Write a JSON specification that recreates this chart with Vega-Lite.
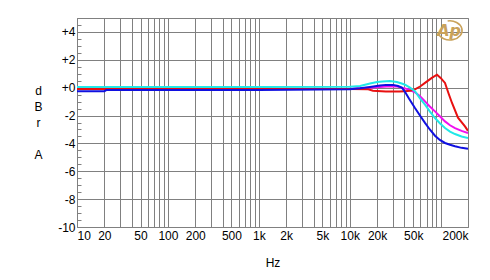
{
  "$schema": "https://vega.github.io/schema/vega-lite/v6.json",
  "width": 391,
  "height": 209,
  "autosize": {"type": "none"},
  "padding": {"left": 77, "top": 18, "right": 22, "bottom": 53},
  "background": "white",
  "config": {"view": {"stroke": "#808080", "strokeWidth": 1}, "font": "Liberation Sans"},
  "layer": [
    {
      "data": {"values": [
        {"t": "magenta", "hz": 10, "db": -0.1}, {"t": "magenta", "hz": 1000, "db": -0.1}, {"t": "magenta", "hz": 10000, "db": -0.08}, {"t": "magenta", "hz": 16700, "db": 0.0}, {"t": "magenta", "hz": 21500, "db": 0.05}, {"t": "magenta", "hz": 27700, "db": 0.1}, {"t": "magenta", "hz": 33000, "db": 0.08}, {"t": "magenta", "hz": 36000, "db": 0.02}, {"t": "magenta", "hz": 40500, "db": -0.05}, {"t": "magenta", "hz": 45000, "db": -0.15}, {"t": "magenta", "hz": 52200, "db": -0.33}, {"t": "magenta", "hz": 59000, "db": -0.6}, {"t": "magenta", "hz": 67300, "db": -0.98}, {"t": "magenta", "hz": 76000, "db": -1.35}, {"t": "magenta", "hz": 86700, "db": -1.7}, {"t": "magenta", "hz": 98000, "db": -2.05}, {"t": "magenta", "hz": 111700, "db": -2.42}, {"t": "magenta", "hz": 126800, "db": -2.7}, {"t": "magenta", "hz": 143900, "db": -2.9}, {"t": "magenta", "hz": 170000, "db": -3.1}, {"t": "magenta", "hz": 200000, "db": -3.25},
        {"t": "red", "hz": 10, "db": -0.1}, {"t": "red", "hz": 10000, "db": -0.1}, {"t": "red", "hz": 16000, "db": -0.12}, {"t": "red", "hz": 18000, "db": -0.22}, {"t": "red", "hz": 25000, "db": -0.27}, {"t": "red", "hz": 35000, "db": -0.28}, {"t": "red", "hz": 40500, "db": -0.25}, {"t": "red", "hz": 46000, "db": -0.22}, {"t": "red", "hz": 52200, "db": -0.12}, {"t": "red", "hz": 60000, "db": 0.1}, {"t": "red", "hz": 67300, "db": 0.34}, {"t": "red", "hz": 80000, "db": 0.7}, {"t": "red", "hz": 91200, "db": 0.93}, {"t": "red", "hz": 100000, "db": 0.7}, {"t": "red", "hz": 111700, "db": 0.34}, {"t": "red", "hz": 122000, "db": -0.4}, {"t": "red", "hz": 133400, "db": -1.1}, {"t": "red", "hz": 155200, "db": -2.15}, {"t": "red", "hz": 185300, "db": -2.78}, {"t": "red", "hz": 200000, "db": -3.1},
        {"t": "cyan", "hz": 10, "db": 0.05}, {"t": "cyan", "hz": 1000, "db": 0.05}, {"t": "cyan", "hz": 10000, "db": 0.07}, {"t": "cyan", "hz": 13000, "db": 0.12}, {"t": "cyan", "hz": 16700, "db": 0.3}, {"t": "cyan", "hz": 20000, "db": 0.4}, {"t": "cyan", "hz": 23000, "db": 0.45}, {"t": "cyan", "hz": 27700, "db": 0.48}, {"t": "cyan", "hz": 33000, "db": 0.4}, {"t": "cyan", "hz": 38000, "db": 0.28}, {"t": "cyan", "hz": 41000, "db": 0.2}, {"t": "cyan", "hz": 46000, "db": 0.0}, {"t": "cyan", "hz": 52200, "db": -0.26}, {"t": "cyan", "hz": 59000, "db": -0.75}, {"t": "cyan", "hz": 67300, "db": -1.22}, {"t": "cyan", "hz": 76000, "db": -1.7}, {"t": "cyan", "hz": 86700, "db": -2.18}, {"t": "cyan", "hz": 98000, "db": -2.55}, {"t": "cyan", "hz": 111700, "db": -2.9}, {"t": "cyan", "hz": 126800, "db": -3.15}, {"t": "cyan", "hz": 143900, "db": -3.33}, {"t": "cyan", "hz": 170000, "db": -3.5}, {"t": "cyan", "hz": 200000, "db": -3.61},
        {"t": "blue", "hz": 10, "db": -0.25}, {"t": "blue", "hz": 20, "db": -0.25}, {"t": "blue", "hz": 21, "db": -0.17}, {"t": "blue", "hz": 1000, "db": -0.16}, {"t": "blue", "hz": 10000, "db": -0.12}, {"t": "blue", "hz": 13000, "db": -0.05}, {"t": "blue", "hz": 16700, "db": 0.05}, {"t": "blue", "hz": 21500, "db": 0.15}, {"t": "blue", "hz": 25000, "db": 0.2}, {"t": "blue", "hz": 30000, "db": 0.2}, {"t": "blue", "hz": 34000, "db": 0.12}, {"t": "blue", "hz": 37500, "db": 0.0}, {"t": "blue", "hz": 40500, "db": -0.3}, {"t": "blue", "hz": 45000, "db": -0.8}, {"t": "blue", "hz": 52200, "db": -1.46}, {"t": "blue", "hz": 60000, "db": -2.05}, {"t": "blue", "hz": 67300, "db": -2.53}, {"t": "blue", "hz": 76000, "db": -3.0}, {"t": "blue", "hz": 86700, "db": -3.45}, {"t": "blue", "hz": 98000, "db": -3.75}, {"t": "blue", "hz": 111700, "db": -3.97}, {"t": "blue", "hz": 126800, "db": -4.1}, {"t": "blue", "hz": 143900, "db": -4.21}, {"t": "blue", "hz": 170000, "db": -4.32}, {"t": "blue", "hz": 200000, "db": -4.38}
      ]},
      "mark": {"type": "line", "strokeWidth": 2, "clip": true},
      "encoding": {
        "x": {
          "field": "hz", "type": "quantitative",
          "scale": {"type": "log", "domain": [10, 200000], "nice": false},
          "axis": {
            "values": [10, 20, 30, 40, 50, 60, 70, 80, 90, 100, 200, 300, 400, 500, 600, 700, 800, 900, 1000, 2000, 3000, 4000, 5000, 6000, 7000, 8000, 9000, 10000, 20000, 30000, 40000, 50000, 60000, 70000, 80000, 90000, 100000, 200000],
            "tickCount": 1000,
            "labelExpr": "indexof([10, 20, 50, 100, 200, 500, 1000, 2000, 5000, 10000, 20000, 50000, 200000], datum.value) >= 0 ? (datum.value >= 1000 ? (datum.value / 1000) + 'k' : '' + datum.value) : ''",
            "grid": true, "gridColor": "#808080", "gridWidth": 1, "gridOpacity": 1,
            "ticks": false, "domain": false,
            "labelFlush": true, "labelOverlap": false, "labelFontSize": 12, "labelColor": "#000000", "labelPadding": 3,
            "title": "Hz", "titleFontWeight": "normal", "titleFontSize": 12, "titleColor": "#000000",
            "titleY": 39, "titleBaseline": "alphabetic"
          }
        },
        "y": {
          "field": "db", "type": "quantitative",
          "scale": {"domain": [-10, 5], "nice": false, "zero": false},
          "axis": {
            "values": [-10, -9.5, -9, -8.5, -8, -7.5, -7, -6.5, -6, -5.5, -5, -4.5, -4, -3.5, -3, -2.5, -2, -1.5, -1, -0.5, 0, 0.5, 1, 1.5, 2, 2.5, 3, 3.5, 4, 4.5, 5],
            "tickCount": 1000,
            "labelExpr": "datum.value % 2 == 0 ? ((datum.value >= 0 ? '+' : '-') + abs(datum.value)) : ''",
            "grid": true, "gridColor": "#808080", "gridWidth": 1,
            "gridOpacity": {"condition": {"test": "datum.value % 2 == 0", "value": 1}, "value": 0},
            "ticks": true, "tickSize": -4, "tickColor": "#808080", "domain": false,
            "labelOverlap": false, "labelFontSize": 12, "labelColor": "#000000", "labelPadding": 6,
            "title": ["d", "B", "r", "\u200b", "A"], "titleAngle": 0, "titleAlign": "center", "titleBaseline": "middle",
            "titleX": -39, "titleY": 72, "titleLineHeight": 16,
            "titleFontWeight": "normal", "titleFontSize": 12, "titleColor": "#000000"
          }
        },
        "color": {
          "field": "t", "type": "nominal",
          "scale": {"domain": ["magenta", "red", "cyan", "blue"], "range": ["#f010f0", "#e81010", "#20e8e8", "#1010e0"]},
          "legend": null
        }
      }
    },
    {
      "data": {"values": [{"hz": 127000, "db": 4.1, "label": "Ap"}]},
      "layer": [
        {
          "mark": {"type": "point", "shape": "M -0.2 -0.78 A 1 0.78 0 1 1 -0.98 0.2", "size": 600, "filled": false, "stroke": "#c9a25a", "strokeWidth": 1.6, "opacity": 1},
          "encoding": {
            "x": {"field": "hz", "type": "quantitative"},
            "y": {"field": "db", "type": "quantitative"}
          }
        },
        {
          "mark": {"type": "text", "fontSize": 16, "fontWeight": "bold", "fontStyle": "italic", "font": "DejaVu Sans", "color": "#c9a25a", "align": "center", "baseline": "middle", "dx": -1},
          "encoding": {
            "x": {"field": "hz", "type": "quantitative"},
            "y": {"field": "db", "type": "quantitative"},
            "text": {"field": "label"}
          }
        }
      ]
    }
  ]
}
